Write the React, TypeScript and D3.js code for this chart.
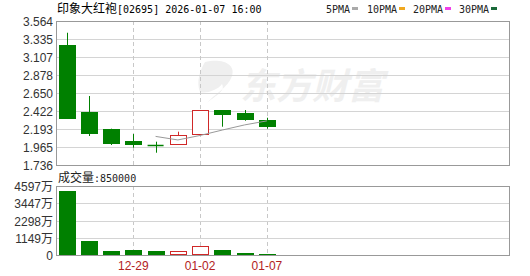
import React from "react";
import * as d3 from "d3";

const dates = ["12-22", "12-23", "12-24", "12-29", "12-30", "12-31", "01-02", "01-05", "01-06", "01-07"];
const opens = [3.263, 2.409, 2.197, 2.041, 1.986, 1.999, 2.126, 2.434, 2.396, 2.307];
const closes = [2.336, 2.146, 2.019, 2.006, 1.986, 2.113, 2.43, 2.387, 2.316, 2.235];
const highs = [3.415, 2.612, 2.197, 2.129, 2.032, 2.159, 2.43, 2.434, 2.434, 2.336];
const lows = [2.336, 2.104, 1.99, 1.956, 1.892, 1.999, 2.126, 2.222, 2.298, 2.197];
const volumes = [4284, 950, 266, 333, 266, 266, 580, 333, 100, 85]; // 万
const ma5 = [NaN, NaN, NaN, NaN, 2.099, 2.054, 2.111, 2.18, 2.245, 2.296];
const priceTicks = ["3.564", "3.335", "3.107", "2.878", "2.650", "2.422", "2.193", "1.965", "1.736"];
const volTicks = [4597, 3447, 2298, 1149, 0];
const labeledDates = ["12-29", "01-02", "01-07"];
const legendItems = [
  { name: "5PMA", color: "#aaaaaa" },
  { name: "10PMA", color: "#f0a820" },
  { name: "20PMA", color: "#f040e8" },
  { name: "30PMA", color: "#1a6a3a" },
];

const L = 56, R = 509;
const PT = 21, PB = 165;
const VT = 186, VB = 255;
const GREEN = "#008000";
const RED = "#d02828";
const MONO = "'DejaVu Sans Mono', 'Liberation Mono', monospace";
const CJK = "'Noto Sans CJK SC', sans-serif";
const SANS = "'Liberation Sans', Arial, sans-serif";

export default function App() {
  const x = d3.scaleLinear().domain([0, dates.length - 1]).range([66.5, 66.5 + 9 * 22.27]);
  const y = d3.scaleLinear().domain([+priceTicks[8], +priceTicks[0]]).range([PB, PT]);
  const yv = d3.scaleLinear().domain([0, volTicks[0]]).range([VB, VT]);
  const bw = 16;

  const maLine = d3
    .line<number>()
    .defined((d) => !isNaN(d))
    .x((_, i) => x(i))
    .y((d) => y(d));

  const dashIdx = labeledDates.map((d) => dates.indexOf(d));

  return (
    <svg width={530} height={276} style={{ position: "absolute", left: 0, top: 0 }}>
      <rect x={0} y={0} width={530} height={276} fill="#fff" />
      {/* watermark */}
      <g>
        <path d="M205,62 C222,58 236,64 232,76 C228,88 214,94 206,104 C214,96 226,92 222,84 C218,90 206,94 200,92 C196,82 200,70 205,62 Z" fill="#efefef" />
        <text x={240} y={99} fontFamily={CJK} fontSize={36} fontWeight="bold" fontStyle="italic" fill="#efefef">
          东方财富
        </text>
      </g>
      {/* title */}
      <text x={57} y={13} fontSize={12}>
        <tspan fontFamily={CJK} fontSize={12}>印象大红袍</tspan>
        <tspan fontFamily={MONO} fontSize={10}>[02695] 2026-01-07 16:00</tspan>
      </text>
      {/* legend */}
      {(() => {
        const xs = [326, 367, 413, 459];
        return legendItems.map((it, i) => (
          <g key={it.name}>
            <text x={xs[i]} y={13} fontFamily={MONO} fontSize={10} fill="#222">
              {it.name}
            </text>
            <rect x={xs[i] + it.name.length * 6 + 2} y={7} width={6} height={3} fill={it.color} />
          </g>
        ));
      })()}
      {/* price grid */}
      {priceTicks.map((t, i) => {
        const yy = Math.round(y(+t)) + 0.5;
        return (
          <g key={t}>
            {i > 0 && i < priceTicks.length - 1 && (
              <line x1={L} x2={R} y1={yy} y2={yy} stroke="#d4d4d4" />
            )}
            <text x={53} y={y(+t) + 5} textAnchor="end" fontFamily={SANS} fontSize={12} fill="#333">
              {t}
            </text>
          </g>
        );
      })}
      {dashIdx.map((i) => (
        <g key={"d" + i}>
          <line x1={Math.round(x(i)) + 0.5} x2={Math.round(x(i)) + 0.5} y1={PT} y2={PB} stroke="#c8c8c8" strokeDasharray="4,3" />
          <line x1={Math.round(x(i)) + 0.5} x2={Math.round(x(i)) + 0.5} y1={VT} y2={VB} stroke="#c8c8c8" strokeDasharray="4,3" />
          <text x={x(i)} y={270} textAnchor="middle" fontFamily={SANS} fontSize={12} fill="#b22222">
            {dates[i]}
          </text>
        </g>
      ))}
      <rect x={L + 0.5} y={PT + 0.5} width={R - L} height={PB - PT} fill="none" stroke="#999" />
      {/* candles */}
      {dates.map((d, i) => {
        const up = closes[i] > opens[i];
        const c = up ? RED : GREEN;
        const cx = Math.round(x(i)) + 0.5;
        const top = Math.round(y(Math.max(opens[i], closes[i])));
        const bot = Math.round(y(Math.min(opens[i], closes[i])));
        const h = Math.max(1, bot - top);
        return (
          <g key={d}>
            <line x1={cx} x2={cx} y1={y(highs[i])} y2={y(lows[i])} stroke={c} />
            {up ? (
              <rect x={Math.round(x(i) - bw / 2) + 0.5} y={top + 0.5} width={bw} height={h} fill="#fff" stroke={c} />
            ) : h <= 1 ? (
              <line x1={x(i) - bw / 2} x2={x(i) + bw / 2} y1={top + 0.5} y2={top + 0.5} stroke={c} strokeWidth={1.5} />
            ) : (
              <rect x={Math.round(x(i) - bw / 2)} y={top} width={bw + 1} height={h + 1} fill={c} />
            )}
          </g>
        );
      })}
      <path d={maLine(ma5) || ""} fill="none" stroke="#999" strokeWidth={1} />
      {/* volume */}
      <text x={58} y={182} fontSize={12} fill="#222">
        <tspan fontFamily={CJK}>成交量</tspan>
        <tspan fontFamily={MONO} fontSize={10}>:850000</tspan>
      </text>
      {volTicks.map((t, i) => {
        const yy = Math.round(yv(t)) + 0.5;
        return (
          <g key={"v" + t}>
            {i > 0 && i < volTicks.length - 1 && <line x1={L} x2={R} y1={yy} y2={yy} stroke="#d4d4d4" />}
            <text x={53} y={yv(t) + 5} textAnchor="end" fontSize={12} fill="#333">
              <tspan fontFamily={SANS}>{t}</tspan>
              {t !== 0 && <tspan fontFamily={CJK}>万</tspan>}
            </text>
          </g>
        );
      })}
      <rect x={L + 0.5} y={VT + 0.5} width={R - L} height={VB - VT} fill="none" stroke="#999" />
      {dates.map((d, i) => {
        const up = closes[i] > opens[i];
        const top = Math.round(yv(volumes[i]));
        const h = Math.max(1, VB - top);
        return up ? (
          <rect key={"vb" + d} x={Math.round(x(i) - bw / 2) + 0.5} y={top + 0.5} width={bw} height={h - 1} fill="#fff" stroke={RED} />
        ) : (
          <rect key={"vb" + d} x={Math.round(x(i) - bw / 2)} y={top} width={bw + 1} height={h} fill={GREEN} />
        );
      })}
    </svg>
  );
}
